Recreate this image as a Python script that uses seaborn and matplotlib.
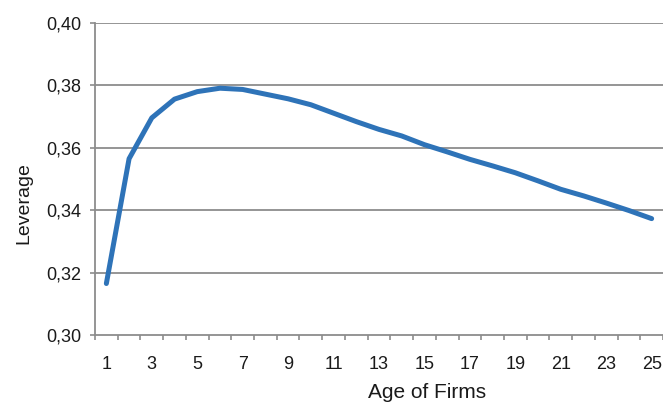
import matplotlib
matplotlib.use("Agg")
import matplotlib.pyplot as plt
import seaborn as sns
import pandas as pd
from matplotlib.ticker import FixedLocator, FuncFormatter

age = list(range(1, 26))
leverage = [0.3165, 0.3565, 0.3696, 0.3756, 0.3780, 0.3791, 0.3787, 0.3772,
            0.3757, 0.3738, 0.3711, 0.3684, 0.3659, 0.3638, 0.3610, 0.3587,
            0.3563, 0.3542, 0.3520, 0.3494, 0.3467, 0.3446, 0.3423, 0.3399,
            0.3373]
x_tick_labels = list(range(1, 26, 2))
y_ticks = [0.30, 0.32, 0.34, 0.36, 0.38, 0.40]

df = pd.DataFrame({"Age of Firms": age, "Leverage": leverage})

sns.set_theme(style="white")
plt.rcParams["font.family"] = ["Liberation Sans", "DejaVu Sans"]

fig = plt.figure(figsize=(6.63, 4.04), dpi=100)
ax = fig.add_axes([95 / 663, 69 / 404, 568 / 663, 312 / 404])

grid_c = "#8c8c8c"
for yv in y_ticks[1:]:
    ax.axhline(yv, color=grid_c, lw=1.3, zorder=1)

sns.lineplot(data=df, x="Age of Firms", y="Leverage", ax=ax, color="#2E73B8",
             lw=3.6, solid_capstyle="round", solid_joinstyle="round", zorder=3)

ax.set_xlim(0.5, 25.5)
ax.set_ylim(0.30, 0.40)
ax.set_yticks(y_ticks)
ax.yaxis.set_major_formatter(FuncFormatter(lambda v, p: f"{v:.2f}".replace(".", ",")))
ax.set_xticks(x_tick_labels)
ax.set_xticklabels([str(v) for v in x_tick_labels])
ax.xaxis.set_minor_locator(FixedLocator([i + 0.5 for i in range(0, 26)]))

txt_c = "#1a1a1a"
ax.tick_params(axis="x", which="major", length=0, pad=15, labelsize=13, labelcolor=txt_c)
ax.tick_params(axis="x", which="minor", length=3.6, width=1.2, color=grid_c, direction="out", bottom=True)
ax.tick_params(axis="y", which="major", length=3.6, width=1.2, color=grid_c, direction="out",
               left=True, pad=6.3, labelsize=13, labelcolor=txt_c)

for s in ["top", "right"]:
    ax.spines[s].set_visible(False)
for s in ["left", "bottom"]:
    ax.spines[s].set_color(grid_c)
    ax.spines[s].set_linewidth(1.3)

ax.set_xlabel("Age of Firms", fontsize=15, color=txt_c, va="center")
ax.set_ylabel("Leverage", fontsize=14, color=txt_c, va="center", ha="center")
ax.xaxis.set_label_coords(0.585, -0.183)
ax.yaxis.set_label_coords(-0.125, 0.423)

fig.savefig("out.png", dpi=100)
